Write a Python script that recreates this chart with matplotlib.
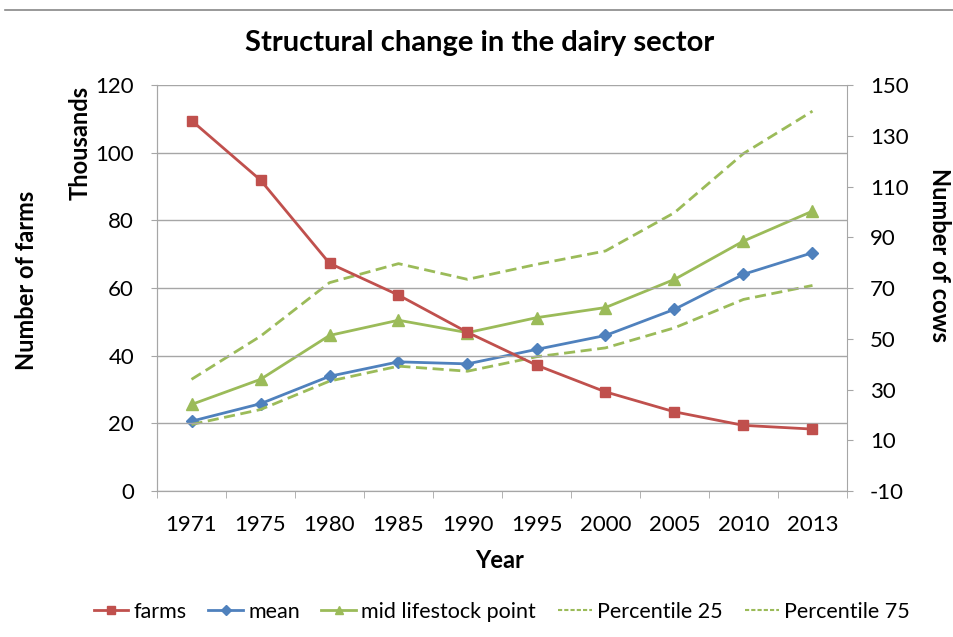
import matplotlib
matplotlib.use("Agg")
import matplotlib.pyplot as plt
from matplotlib.lines import Line2D
import numpy as np

plt.rcParams['font.family'] = ['Lato', 'DejaVu Sans']
plt.rcParams['axes.unicode_minus'] = False

years = ["1971", "1975", "1980", "1985", "1990", "1995", "2000", "2005", "2010", "2013"]
farms = [109.5, 91.9, 67.3, 57.9, 46.9, 37.2, 29.3, 23.4, 19.4, 18.3]
mean = [17.5, 24.4, 35.2, 40.9, 40.1, 45.8, 51.3, 61.6, 75.4, 83.9]
mid = [24.1, 34.0, 51.3, 57.3, 52.4, 58.3, 62.3, 73.4, 88.5, 100.3]
p25 = [16.2, 22.1, 33.3, 39.2, 37.2, 42.9, 46.4, 54.3, 65.5, 71.0]
p75 = [34.0, 51.0, 72.1, 79.6, 73.4, 79.3, 84.6, 99.7, 123.0, 139.7]

RED = '#C0504D'
BLUE = '#4F81BD'
GREEN = '#9BBB59'
GRID = '#A6A6A6'

fig = plt.figure(figsize=(9.54, 6.37), dpi=100)
ax = fig.add_axes([157/954, 1-491/637, 690/954, 406/637])
ax2 = ax.twinx()

x = np.arange(len(years))

ax.plot(x, farms, color=RED, lw=2, marker='s', ms=7.5, zorder=5)
ax2.plot(x, mean, color=BLUE, lw=2, marker='D', ms=6)
ax2.plot(x, mid, color=GREEN, lw=2, marker='^', ms=8.5)
ax2.plot(x, p25, color=GREEN, lw=2, ls=(0, (4, 2)))
ax2.plot(x, p75, color=GREEN, lw=2, ls=(0, (4, 2)))

ax.set_zorder(ax2.get_zorder() + 1)
ax.patch.set_visible(False)

ax.set_xlim(-0.5, len(years) - 0.5)
ax.set_ylim(0, 120)
ax.set_yticks(np.arange(0, 121, 20))
ax2.set_ylim(-10, 150)
ax2.set_yticks(np.arange(-10, 151, 20))

ax.set_xticks(x)
ax.set_xticklabels(years)
ax.set_xticks(np.arange(-0.5, len(years)), minor=True)
ax.tick_params(axis='x', which='major', length=0, pad=17, labelsize=16)
ax.tick_params(axis='x', which='minor', length=5, color=GRID, direction='out')
ax.tick_params(axis='y', length=4.5, color=GRID, labelsize=16, pad=12)
ax2.tick_params(axis='y', length=4.5, color=GRID, labelsize=16, pad=12)

ax.yaxis.grid(True, color=GRID, lw=1)
ax.set_axisbelow(True)

for a in (ax, ax2):
    a.spines['top'].set_visible(False)
    for s in ('left', 'right', 'bottom'):
        a.spines[s].set_color(GRID)
ax.spines['right'].set_visible(False)

fig.text(500/954, 1-561/637, 'Year', fontsize=17, fontweight='bold', ha='center', va='center')
fig.text(940/954, 1-255/637, 'Number of cows', rotation=-90, fontsize=17, fontweight='bold', ha='center', va='center')
fig.text(80/954, 1-143/637, 'Thousands', rotation=90, fontsize=17, fontweight='bold', ha='center', va='center')
fig.text(27/954, 1-280/637, 'Number of farms', rotation=90, fontsize=17, fontweight='bold', ha='center', va='center')
fig.text(480/954, 1-43/637, 'Structural change in the dairy sector', fontsize=21, fontweight='bold', ha='center', va='center')

fig.add_artist(Line2D([5/954, 1], [1-10/637, 1-10/637], color='#888888', lw=1.2))

handles = [
    Line2D([], [], color=RED, lw=2, marker='s', ms=6),
    Line2D([], [], color=BLUE, lw=2, marker='D', ms=5),
    Line2D([], [], color=GREEN, lw=2, marker='^', ms=6),
    Line2D([], [], color=GREEN, lw=1.5, ls=(0, (2, 1))),
    Line2D([], [], color=GREEN, lw=1.5, ls=(0, (2, 1))),
]
labels = ['farms', 'mean', 'mid lifestock point', 'Percentile 25', 'Percentile 75']
fig.legend(handles, labels, loc='center', bbox_to_anchor=(502/954, 1-612/637), ncol=5,
           frameon=False, fontsize=15.5, handlelength=1.6, handletextpad=0.25, columnspacing=1.0)

fig.savefig('out.png', dpi=100)
